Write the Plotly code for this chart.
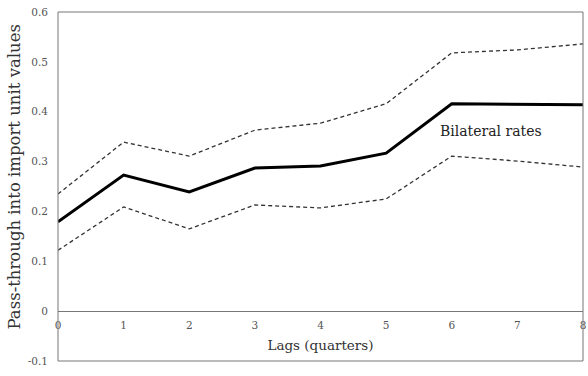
import plotly.graph_objects as go

lags = [0, 1, 2, 3, 4, 5, 6, 7, 8]
bilateral = [0.179, 0.273, 0.239, 0.287, 0.291, 0.317, 0.416, 0.415, 0.414]
upper_band = [0.235, 0.339, 0.311, 0.363, 0.377, 0.416, 0.518, 0.524, 0.536]
lower_band = [0.122, 0.209, 0.165, 0.213, 0.207, 0.225, 0.311, 0.301, 0.289]
y_ticks = [-0.1, 0, 0.1, 0.2, 0.3, 0.4, 0.5, 0.6]
y_tick_text = ["-0.1", "0", "0.1", "0.2", "0.3", "0.4", "0.5", "0.6"]

SERIF = "DejaVu Serif, Liberation Serif, serif"
Y_MIN, Y_MAX = -0.1, 0.6

fig = go.Figure()
band_style = dict(color="#333333", width=1.3, dash="4px,3px")
fig.add_trace(go.Scatter(x=lags, y=upper_band, mode="lines", line=band_style, showlegend=False))
fig.add_trace(go.Scatter(x=lags, y=lower_band, mode="lines", line=band_style, showlegend=False))
fig.add_trace(go.Scatter(x=lags, y=bilateral, mode="lines",
                         line=dict(color="#000000", width=3), showlegend=False))

fig.add_annotation(x=6.6, y=0.361, text="Bilateral rates", showarrow=False,
                   font=dict(family=SERIF, size=14, color="#222222"))
fig.add_annotation(xref="paper", yref="paper", x=-0.083, y=0.527, xanchor="center",
                   yanchor="middle", text="Pass-through into import unit values",
                   textangle=-90, showarrow=False,
                   font=dict(family=SERIF, size=16.5, color="#333333"))

zero_pos = (0 - Y_MIN) / (Y_MAX - Y_MIN)

fig.update_layout(
    width=588, height=376,
    margin=dict(l=58, r=2, t=12, b=15),
    paper_bgcolor="white", plot_bgcolor="white",
    xaxis=dict(range=[0, 8], tickvals=lags, ticks="", showgrid=False, zeroline=False,
               showline=False, anchor="free", position=zero_pos,
               ticklabeloverflow="allow", ticklabelstandoff=6,
               tickfont=dict(family=SERIF, size=10.5, color="#555555"),
               title=dict(text="Lags (quarters)", standoff=10,
                          font=dict(family=SERIF, size=13.5, color="#333333"))),
    yaxis=dict(range=[Y_MIN, Y_MAX], tickvals=y_ticks, ticktext=y_tick_text, ticks="",
               showgrid=False, zeroline=True, zerolinecolor="#777777", zerolinewidth=1,
               showline=False, ticklabelstandoff=9,
               tickfont=dict(family=SERIF, size=10.5, color="#555555")),
    shapes=[dict(type="rect", xref="paper", yref="paper", x0=0, x1=1, y0=0, y1=1,
                 line=dict(color="#777777", width=1), layer="above")],
)

fig.write_html("out.html")
